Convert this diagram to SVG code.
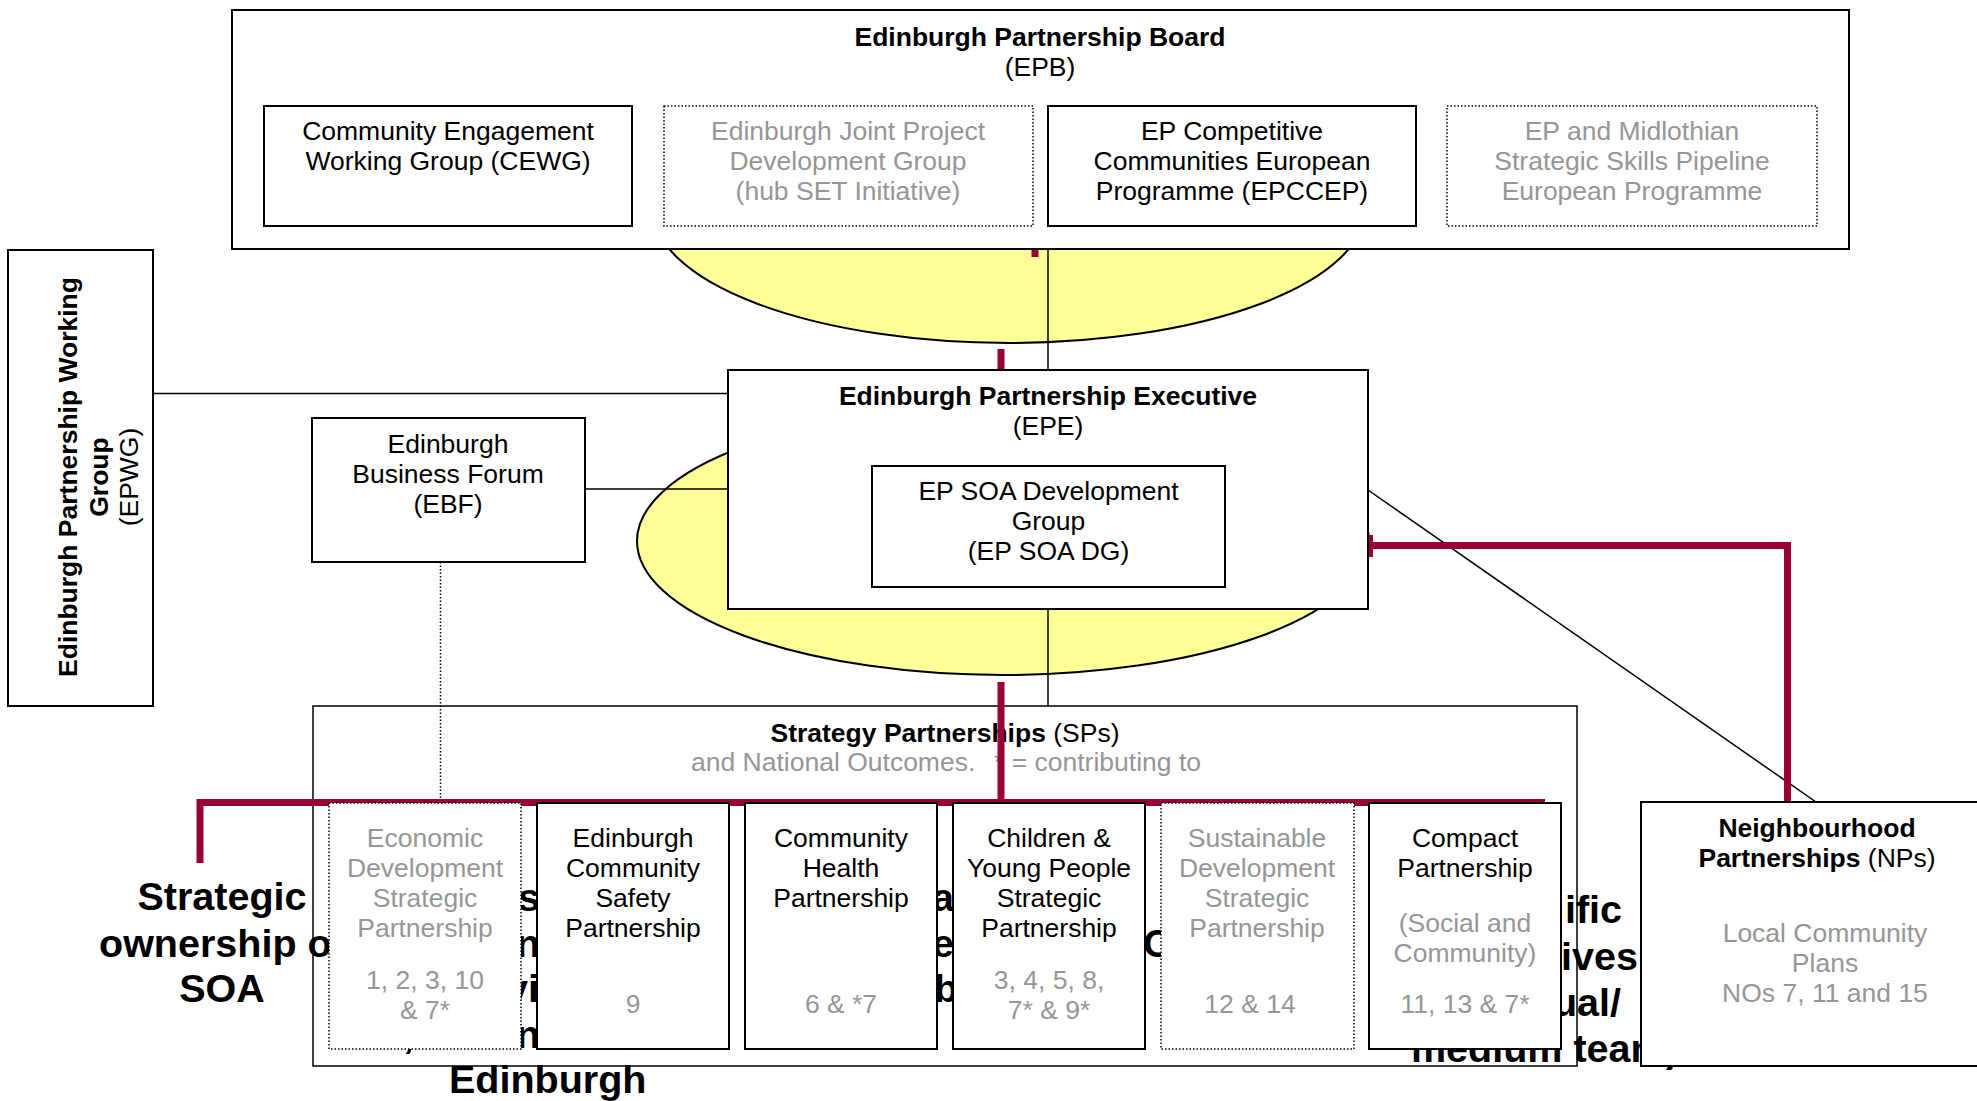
<svg xmlns="http://www.w3.org/2000/svg" width="1977" height="1101" viewBox="0 0 1977 1101">
<style>
text { font-family: "Liberation Sans", Arial, sans-serif; font-size: 26.5px; fill: #000; }
.b { font-weight: bold; }
.g { fill: #969696; }
.m { text-anchor: middle; }
.e { text-anchor: end; }
.big { font-size: 39.5px; font-weight: bold; }
.box { fill: #fff; stroke: #000; stroke-width: 2; }
.dot { fill: #fff; stroke: #000; stroke-width: 1.5; stroke-dasharray: 1.5 2; }
.red { fill: none; stroke: #990033; stroke-width: 7; }
.ln { fill: none; stroke: #000; stroke-width: 1.5; }
.dl { fill: none; stroke: #000; stroke-width: 1.5; stroke-dasharray: 1.5 2; }
.ell { fill: #FFFF99; stroke: #000; stroke-width: 2; }
</style>

<!-- Strategy Partnerships container -->
<g id="sp-container">
  <rect x="313" y="706" width="1264" height="360" fill="#fff" stroke="#000" stroke-width="1.5"/>
  <text class="m" x="945" y="742"><tspan class="b">Strategy Partnerships</tspan> (SPs)</text>
  <text class="g" y="771"><tspan x="691">and National Outcomes.</tspan><tspan x="994">* = contributing to</tspan></text>
</g>

<!-- large background texts (partly hidden) -->
<g id="background-text">
  <text class="big m" x="222" y="910">Strategic</text>
  <text class="big" x="99" y="957">ownership o</text>
  <text class="big m" x="222" y="1002">SOA</text>
  <text class="big" x="518" y="911">s</text>
  <text class="big" x="516" y="957">n</text>
  <text class="big" x="506" y="1002">vi</text>
  <text class="big" x="403" y="1048">,</text>
  <text class="big" x="516" y="1048">n</text>
  <text class="big" x="449" y="1093">Edinburgh</text>
  <text class="big" x="932" y="911">a</text>
  <text class="big" x="932" y="957">e</text>
  <text class="big" x="934" y="1002">b</text>
  <text class="big" x="1143" y="957">C</text>
  <text class="big e" x="1622" y="923">ific</text>
  <text class="big e" x="1638" y="970">ives</text>
  <text class="big e" x="1621" y="1016">ual/</text>
  <text class="big" x="1411" y="1062">medium team)</text>
</g>

<!-- ellipses -->
<g id="ellipses">
  <ellipse class="ell" cx="1009" cy="209" rx="356" ry="134"/>
  <ellipse class="ell" cx="1003" cy="541" rx="366" ry="134"/>
</g>

<!-- connectors -->
<g id="connectors">
  <path class="dl" d="M440.5,562 V803"/>
  <path class="ln" d="M153,393.5 H728"/>
  <path class="ln" d="M585,489 H728"/>
  <path class="ln" d="M1048,249 V370"/>
  <path class="ln" d="M1048,609 V706"/>
  <path class="ln" d="M1368,490 L1816,802"/>
  <path class="red" d="M1035,249 V257"/>
  <path class="red" d="M1001,349 V370"/>
  <path class="red" d="M1001,682 V802.5"/>
  <path class="red" d="M200,863 V802.5 H1545"/>
  <path class="red" d="M1372,545.5 H1787.5 V802"/>
  <path d="M1371,535 V557" stroke="#990033" stroke-width="4" fill="none"/>
</g>

<!-- Edinburgh Partnership Board -->
<g id="epb">
  <rect class="box" x="232" y="10" width="1617" height="239"/>
  <text class="b m" x="1040" y="46">Edinburgh Partnership Board</text>
  <text class="m" x="1040" y="76">(EPB)</text>
</g>
<g id="cewg">
  <rect class="box" x="264" y="106" width="368" height="120"/>
  <text class="m" x="448" y="140">Community Engagement</text>
  <text class="m" x="448" y="170">Working Group (CEWG)</text>
</g>
<g id="ejpdg">
  <rect class="dot" x="664" y="106" width="369" height="120"/>
  <text class="m g" x="848" y="140">Edinburgh Joint Project</text>
  <text class="m g" x="848" y="170">Development Group</text>
  <text class="m g" x="848" y="200">(hub SET Initiative)</text>
</g>
<g id="epccep">
  <rect class="box" x="1048" y="106" width="368" height="120"/>
  <text class="m" x="1232" y="140">EP Competitive</text>
  <text class="m" x="1232" y="170">Communities European</text>
  <text class="m" x="1232" y="200">Programme (EPCCEP)</text>
</g>
<g id="epmssp">
  <rect class="dot" x="1447" y="106" width="370" height="120"/>
  <text class="m g" x="1632" y="140">EP and Midlothian</text>
  <text class="m g" x="1632" y="170">Strategic Skills Pipeline</text>
  <text class="m g" x="1632" y="200">European Programme</text>
</g>

<!-- Edinburgh Partnership Working Group -->
<g id="epwg">
  <rect class="box" x="8" y="250" width="145" height="456"/>
  <text class="b m" transform="translate(77,477) rotate(-90)">Edinburgh Partnership Working</text>
  <text class="b m" transform="translate(108,477) rotate(-90)">Group</text>
  <text class="m" transform="translate(138,477) rotate(-90)">(EPWG)</text>
</g>

<!-- Edinburgh Business Forum -->
<g id="ebf">
  <rect class="box" x="312" y="418" width="273" height="144"/>
  <text class="m" x="448" y="453">Edinburgh</text>
  <text class="m" x="448" y="483">Business Forum</text>
  <text class="m" x="448" y="513">(EBF)</text>
</g>

<!-- Edinburgh Partnership Executive -->
<g id="epe">
  <rect class="box" x="728" y="370" width="640" height="239"/>
  <text class="b m" x="1048" y="405">Edinburgh Partnership Executive</text>
  <text class="m" x="1048" y="435">(EPE)</text>
</g>
<g id="epsoadg">
  <rect class="box" x="872" y="466" width="353" height="121"/>
  <text class="m" x="1048.5" y="500">EP SOA Development</text>
  <text class="m" x="1048.5" y="530">Group</text>
  <text class="m" x="1048.5" y="560">(EP SOA DG)</text>
</g>

<!-- Strategy Partnerships -->
<g id="edsp">
  <rect class="dot" x="329" y="803" width="192" height="246"/>
  <text class="m g" x="425" y="847">Economic</text>
  <text class="m g" x="425" y="877">Development</text>
  <text class="m g" x="425" y="907">Strategic</text>
  <text class="m g" x="425" y="937">Partnership</text>
  <text class="m g" x="425" y="989">1, 2, 3, 10</text>
  <text class="m g" x="425" y="1019">&amp; 7*</text>
</g>
<g id="ecsp">
  <rect class="box" x="537" y="803" width="192" height="246"/>
  <text class="m" x="633" y="847">Edinburgh</text>
  <text class="m" x="633" y="877">Community</text>
  <text class="m" x="633" y="907">Safety</text>
  <text class="m" x="633" y="937">Partnership</text>
  <text class="m g" x="633" y="1013">9</text>
</g>
<g id="chp">
  <rect class="box" x="745" y="803" width="192" height="246"/>
  <text class="m" x="841" y="847">Community</text>
  <text class="m" x="841" y="877">Health</text>
  <text class="m" x="841" y="907">Partnership</text>
  <text class="m g" x="841" y="1013">6 &amp; *7</text>
</g>
<g id="cypsp">
  <rect class="box" x="953" y="803" width="192" height="246"/>
  <text class="m" x="1049" y="847">Children &amp;</text>
  <text class="m" x="1049" y="877">Young People</text>
  <text class="m" x="1049" y="907">Strategic</text>
  <text class="m" x="1049" y="937">Partnership</text>
  <text class="m g" x="1049" y="989">3, 4, 5, 8,</text>
  <text class="m g" x="1049" y="1019">7* &amp; 9*</text>
</g>
<g id="sdsp">
  <rect class="dot" x="1161" y="803" width="193" height="246"/>
  <text class="m g" x="1257" y="847">Sustainable</text>
  <text class="m g" x="1257" y="877">Development</text>
  <text class="m g" x="1257" y="907">Strategic</text>
  <text class="m g" x="1257" y="937">Partnership</text>
  <text class="m g" x="1250" y="1013">12 &amp; 14</text>
</g>
<g id="compact">
  <rect class="box" x="1369" y="803" width="192" height="246"/>
  <text class="m" x="1465" y="847">Compact</text>
  <text class="m" x="1465" y="877">Partnership</text>
  <text class="m g" x="1465" y="932">(Social and</text>
  <text class="m g" x="1465" y="962">Community)</text>
  <text class="m g" x="1465" y="1013">11, 13 &amp; 7*</text>
</g>

<!-- Neighbourhood Partnerships -->
<g id="np">
  <rect class="box" x="1641" y="802" width="345" height="264"/>
  <text class="b m" x="1817" y="837">Neighbourhood</text>
  <text class="m" x="1817" y="867"><tspan class="b">Partnerships</tspan> (NPs)</text>
  <text class="m g" x="1825" y="942">Local Community</text>
  <text class="m g" x="1825" y="972">Plans</text>
  <text class="m g" x="1825" y="1002">NOs 7, 11 and 15</text>
</g>
</svg>
